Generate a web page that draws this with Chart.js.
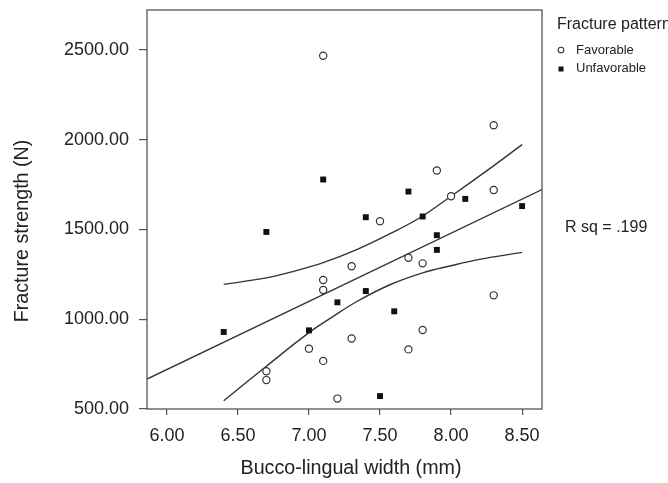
<!DOCTYPE html>
<html>
<head>
<meta charset="utf-8">
<script src="https://cdn.jsdelivr.net/npm/chart.js@4/dist/chart.umd.min.js"></script>
<style>
  html, body { margin: 0; padding: 0; background: #fff; }
  #wrap { width: 668px; height: 483px; }
</style>
</head>
<body>
<div id="wrap"><canvas id="c" width="668" height="483"></canvas></div>
<script>
// ---- data ----
const favX = [7.1, 8.3, 7.9, 8.3, 8.0, 7.5, 7.7, 7.8, 7.3, 7.1, 7.1, 8.3, 7.8, 7.3, 7.0, 7.7, 7.1, 6.7, 6.7, 7.2];
const favY = [2467, 2080, 1828, 1720, 1685, 1546, 1342, 1311, 1295, 1218, 1163, 1133, 940, 893, 836, 832, 768, 710, 661, 558];
const unfX = [7.1, 7.7, 8.1, 8.5, 7.4, 7.8, 6.7, 7.9, 7.9, 7.4, 7.2, 7.6, 6.4, 7.0, 7.5];
const unfY = [1778, 1711, 1670, 1630, 1568, 1572, 1486, 1468, 1386, 1157, 1094, 1044, 929, 938, 572];

const fitX = [5.86, 8.64];
const fitY = [667, 1722];

const upperX = [6.4, 6.7, 6.87, 7.1, 7.34, 7.57, 7.78, 8.0, 8.25, 8.5];
const upperY = [1194, 1230, 1262, 1315, 1389, 1476, 1565, 1685, 1826, 1972];
const lowerX = [6.4, 6.7, 7.0, 7.16, 7.34, 7.57, 7.8, 8.0, 8.2, 8.5];
const lowerY = [546, 738, 925, 1010, 1100, 1192, 1258, 1298, 1333, 1372];

const xTicks = [6.0, 6.5, 7.0, 7.5, 8.0, 8.5];
const yTicks = [500, 1000, 1500, 2000, 2500];

const xTitle = 'Bucco-lingual width (mm)';
const yTitle = 'Fracture strength (N)';
const legendTitle = 'Fracture pattern';
const seriesNames = ['Favorable', 'Unfavorable'];
const rsqText = 'R sq = .199';

// ---- build ----
const pts = (xs, ys) => xs.map((x, i) => ({ x: x, y: ys[i] }));
const FONT = '"Liberation Sans", Arial, Helvetica, sans-serif';
const TXT = '#222';
const AX = '#555';

const framePlugin = {
  id: 'frameAndNotes',
  afterDraw(chart) {
    const ctx = chart.ctx, a = chart.chartArea;
    ctx.save();
    ctx.strokeStyle = AX;
    ctx.lineWidth = 1.3;
    ctx.strokeRect(a.left, a.top, a.right - a.left, a.bottom - a.top);

    ctx.fillStyle = TXT;
    ctx.textBaseline = 'middle';

    // axis titles
    ctx.textAlign = 'center';
    ctx.font = '19.7px ' + FONT;
    ctx.fillText(xTitle, a.left + 204, 469);
    ctx.save();
    ctx.translate(23, 231);
    ctx.rotate(-Math.PI / 2);
    ctx.fillText(yTitle, 0, 0);
    ctx.restore();

    // legend
    const lx = a.right + 15;
    ctx.textAlign = 'left';
    ctx.font = '16px ' + FONT;
    ctx.fillText(legendTitle, lx, 25);

    ctx.font = '13px ' + FONT;
    ctx.beginPath();
    ctx.arc(lx + 4, 50, 2.8, 0, Math.PI * 2);
    ctx.fillStyle = '#fff';
    ctx.fill();
    ctx.strokeStyle = '#333';
    ctx.lineWidth = 1.1;
    ctx.stroke();
    ctx.fillStyle = TXT;
    ctx.fillText(seriesNames[0], lx + 19, 50);
    ctx.fillStyle = '#111';
    ctx.fillRect(lx + 1.5, 66.5, 5, 5);
    ctx.fillStyle = TXT;
    ctx.fillText(seriesNames[1], lx + 19, 68.5);

    ctx.font = '16px ' + FONT;
    ctx.fillText(rsqText, a.right + 23, 228);
    ctx.restore();
  }
};

new Chart(document.getElementById('c'), {
  type: 'scatter',
  data: {
    datasets: [
      {
        label: seriesNames[0],
        data: pts(favX, favY),
        pointStyle: 'circle',
        pointRadius: 3.6,
        pointHoverRadius: 3.6,
        pointBackgroundColor: '#fff',
        pointBorderColor: '#333',
        pointBorderWidth: 1.2
      },
      {
        label: seriesNames[1],
        data: pts(unfX, unfY),
        pointStyle: 'rect',
        pointRadius: 4.2,
        pointHoverRadius: 4.2,
        pointBackgroundColor: '#111',
        pointBorderColor: '#111',
        pointBorderWidth: 0
      },
      {
        label: 'fit',
        data: pts(fitX, fitY),
        showLine: true,
        pointRadius: 0,
        borderColor: '#333',
        borderWidth: 1.4,
        fill: false
      },
      {
        label: 'upper',
        data: pts(upperX, upperY),
        showLine: true,
        pointRadius: 0,
        borderColor: '#333',
        borderWidth: 1.4,
        tension: 0.4,
        fill: false
      },
      {
        label: 'lower',
        data: pts(lowerX, lowerY),
        showLine: true,
        pointRadius: 0,
        borderColor: '#333',
        borderWidth: 1.4,
        tension: 0.4,
        fill: false
      }
    ]
  },
  options: {
    responsive: false,
    animation: false,
    devicePixelRatio: 1,
    events: [],
    layout: { padding: { top: 10, right: 126, left: 0, bottom: 0 } },
    plugins: {
      legend: { display: false },
      tooltip: { enabled: false },
      title: { display: false }
    },
    scales: {
      x: {
        type: 'linear',
        min: 5.86,
        max: 8.64,
        afterBuildTicks: (s) => { s.ticks = xTicks.map(v => ({ value: v })); },
        afterFit: (s) => { s.height = 74; s.paddingLeft = 0; s.paddingRight = 0; },
        grid: { drawOnChartArea: false, drawTicks: true, tickLength: 6, color: AX, lineWidth: 1.2 },
        border: { display: false },
        ticks: {
          color: TXT,
          padding: 10,
          maxRotation: 0,
          font: { family: FONT, size: 18 },
          callback: (v) => Number(v).toFixed(2)
        },
        title: { display: false }
      },
      y: {
        type: 'linear',
        min: 500,
        max: 2722,
        afterBuildTicks: (s) => { s.ticks = yTicks.map(v => ({ value: v })); },
        afterFit: (s) => { s.width = 147; s.paddingTop = 0; s.paddingBottom = 0; },
        grid: { drawOnChartArea: false, drawTicks: true, tickLength: 8, color: AX, lineWidth: 1.2 },
        border: { display: false },
        ticks: {
          color: TXT,
          padding: 10,
          font: { family: FONT, size: 18 },
          callback: (v) => Number(v).toFixed(2)
        },
        title: { display: false }
      }
    }
  },
  plugins: [framePlugin]
});
</script>
</body>
</html>
